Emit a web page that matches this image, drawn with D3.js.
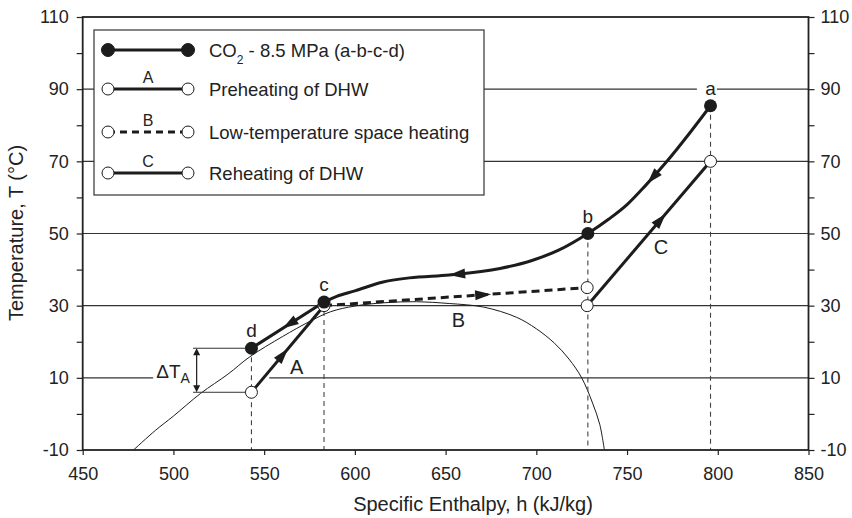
<!DOCTYPE html>
<html>
<head>
<meta charset="utf-8">
<script src="https://cdn.jsdelivr.net/npm/d3@7"></script>
<style>
  body { margin: 0; background: #fff; }
  svg { font-family: "Liberation Sans", Arial, sans-serif; }
</style>
</head>
<body>
<svg width="852" height="518"></svg>
<script>
// values: [h (kJ/kg), T (°C)]
// CO2 gas cooler path, c -> b -> a (flow goes a -> b -> c -> d)
const co2Curve = [[583,31],[590,32.6],[600,34.1],[615,36.5],[630,37.7],[652,38.5],[680,40.3],[698,42.6],[712,45.3],[728.4,50],[740,54],[750,58],[760,63.2],[772,70],[784,77.5],[796,85.4]];
const co2Tail = [[583,31],[543,18.2]];
const lineA = [[543,6],[583,30]];
const lineB = [[583,30],[728,35]];
const lineC = [[728,30],[796,70]];
const dome = [[478,-10],[490,-4.6],[500,-0.6],[515,5.7],[530,11],[542,15.8],[560,21.4],[575,25.6],[586.5,28.3],[600,29.9],[616,30.8],[634,31.1],[652,30.6],[671,29.6],[689,26.8],[700,23.6],[710,19.6],[718,15.2],[725,10],[731,3],[735,-3],[737.5,-10]];
const filledPts = [[796,85.4],[728.4,50],[583,31],[543,18.2]];
const openPts = [[543,6],[583,30],[728,35],[728,30],[796,70]];
const pointNames = ['a','b','c','d'];
const dropLines = [[543,18.2],[583,31],[728.4,50],[796,85.4]];
const co2Arrows = [[764.4,65.4],[656.2,38.9]];
const tailArrows = [[564.3,24.6]];
const arrowA = [[560.4,16.4]];
const arrowB = [[670.7,33]];
const arrowC = [[768.5,53.8]];
const streamLabels = [['A',567.9,11.05],['B',657,24.2],['C',768.7,44.2]];
const deltaT = {h: 512.8, hFrom: 510.8, top: 18.2, bottom: 6, labelH: 499.8, labelT: 10};

const hTicks = [450,500,550,600,650,700,750,800,850];
const tTicks = [-10,0,10,20,30,40,50,60,70,80,90,100,110];
const tLabels = [-10,10,30,50,70,90,110];
const gridT = [10,30,50,70,90];
const gridGaps = {10: [488.8,552.8], 90: [788.5,799.5]};

const legendRows = [
  {key: '', text: 'CO<tspan baseline-shift="sub" font-size="12">2</tspan> - 8.5 MPa (a-b-c-d)', filled: true, dash: null},
  {key: 'A', text: 'Preheating of DHW', filled: false, dash: null},
  {key: 'B', text: 'Low-temperature space heating', filled: false, dash: '7,5'},
  {key: 'C', text: 'Reheating of DHW', filled: false, dash: null}
];

const svg = d3.select('svg');
const ink = '#1c1c1c';
const x = d3.scaleLinear().domain([450, 850]).range([82.7, 808.5]);
const y = d3.scaleLinear().domain([-10, 110]).range([450, 17]);

// gridlines
gridT.forEach(t => {
  const segs = gridGaps[t] ? [[450, gridGaps[t][0]], [gridGaps[t][1], 850]] : [[450, 850]];
  segs.forEach(s => {
    svg.append('line')
      .attr('x1', x(s[0])).attr('x2', x(s[1]))
      .attr('y1', y(t)).attr('y2', y(t))
      .attr('stroke', '#333').attr('stroke-width', 1.1);
  });
});

// saturation dome
svg.append('path')
  .attr('fill', 'none')
  .attr('stroke', ink)
  .attr('stroke-width', 1)
  .attr('d', d3.line().x(d => x(d[0])).y(d => y(d[1])).curve(d3.curveCatmullRom)(dome));

// dashed drop lines
svg.selectAll('.drop')
  .data(dropLines)
  .enter()
  .append('line')
  .attr('x1', d => x(d[0])).attr('x2', d => x(d[0]))
  .attr('y1', d => y(d[1])).attr('y2', y(-10))
  .attr('stroke', '#444').attr('stroke-width', 1.1)
  .attr('stroke-dasharray', '5,4');

// delta T_A dimension
[deltaT.top, deltaT.bottom].forEach(t => {
  svg.append('line')
    .attr('x1', x(deltaT.hFrom)).attr('x2', x(543))
    .attr('y1', y(t)).attr('y2', y(t))
    .attr('stroke', '#333').attr('stroke-width', 1);
});
svg.append('line')
  .attr('x1', x(deltaT.h)).attr('x2', x(deltaT.h))
  .attr('y1', y(deltaT.top) + 6).attr('y2', y(deltaT.bottom) - 6)
  .attr('stroke', ink).attr('stroke-width', 1.2);
svg.append('path')
  .attr('d', `M${x(deltaT.h)},${y(deltaT.top)}l-3.5,7h7z M${x(deltaT.h)},${y(deltaT.bottom)}l-3.5,-7h7z`)
  .attr('fill', ink);
const dt = svg.append('text')
  .attr('x', x(deltaT.labelH)).attr('y', y(deltaT.labelT))
  .attr('text-anchor', 'middle')
  .attr('font-size', 19).attr('fill', '#222');
dt.append('tspan').text('\u0394T');
dt.append('tspan').attr('font-size', 14).attr('dy', 5).text('A');

// process lines
function drawLine(data, width, dash, curve) {
  return svg.append('path')
    .attr('fill', 'none')
    .attr('stroke', ink)
    .attr('stroke-width', width)
    .attr('stroke-linejoin', 'round')
    .attr('stroke-dasharray', dash)
    .attr('d', d3.line().x(d => x(d[0])).y(d => y(d[1])).curve(curve || d3.curveLinear)(data));
}
const pB = drawLine(lineB, 3, '8,5');
const pA = drawLine(lineA, 3, null);
const pC = drawLine(lineC, 3, null);
const pCO2 = drawLine(co2Curve, 3, null, d3.curveMonotoneX);
const pTail = drawLine(co2Tail, 3, null);

function arrowOn(path, pt, reverse) {
  const node = path.node(), len = node.getTotalLength();
  const px = x(pt[0]), py = y(pt[1]);
  let best = 0, bd = Infinity;
  for (let l = 0; l <= len; l += 0.5) {
    const p = node.getPointAtLength(l);
    const dd = (p.x - px) ** 2 + (p.y - py) ** 2;
    if (dd < bd) { bd = dd; best = l; }
  }
  const p = node.getPointAtLength(best);
  const p0 = node.getPointAtLength(Math.max(0, best - 3));
  const p1 = node.getPointAtLength(Math.min(len, best + 3));
  let ang = Math.atan2(p1.y - p0.y, p1.x - p0.x) * 180 / Math.PI;
  if (reverse) ang += 180;
  svg.append('path')
    .attr('d', 'M8,0L-8,-5L-8,5Z')
    .attr('fill', ink)
    .attr('transform', `translate(${p.x},${p.y}) rotate(${ang})`);
}
co2Arrows.forEach(a => arrowOn(pCO2, a, true));
tailArrows.forEach(a => arrowOn(pTail, a, false));
arrowA.forEach(a => arrowOn(pA, a));
arrowB.forEach(a => arrowOn(pB, a));
arrowC.forEach(a => arrowOn(pC, a));

// state points
svg.selectAll('.open')
  .data(openPts)
  .enter()
  .append('circle')
  .attr('cx', d => x(d[0])).attr('cy', d => y(d[1]))
  .attr('r', 6)
  .attr('fill', '#fff').attr('stroke', ink).attr('stroke-width', 1);
svg.selectAll('.filled')
  .data(filledPts)
  .enter()
  .append('circle')
  .attr('cx', d => x(d[0])).attr('cy', d => y(d[1]))
  .attr('r', 6.5)
  .attr('fill', ink);

// point labels
svg.selectAll('.plabel')
  .data(filledPts)
  .enter()
  .append('text')
  .attr('x', d => x(d[0])).attr('y', d => y(d[1]) - 11)
  .attr('text-anchor', 'middle')
  .attr('font-size', 19).attr('fill', '#222')
  .text((d, i) => pointNames[i]);
svg.selectAll('.slabel')
  .data(streamLabels)
  .enter()
  .append('text')
  .attr('x', d => x(d[1])).attr('y', d => y(d[2]))
  .attr('text-anchor', 'middle')
  .attr('font-size', 20).attr('fill', '#222')
  .text(d => d[0]);

// legend
const lg = svg.append('g');
lg.append('rect')
  .attr('x', 94).attr('y', 30).attr('width', 390).attr('height', 165)
  .attr('fill', '#fff').attr('stroke', '#333').attr('stroke-width', 1.2);
const rowY = [50, 89, 132, 173];
legendRows.forEach((r, i) => {
  const g = lg.append('g').attr('transform', `translate(0,${rowY[i]})`);
  g.append('line')
    .attr('x1', 108).attr('x2', 188)
    .attr('stroke', ink).attr('stroke-width', 3)
    .attr('stroke-dasharray', r.dash);
  [108, 188].forEach(cx => {
    g.append('circle')
      .attr('cx', cx).attr('r', r.filled ? 6.5 : 6)
      .attr('fill', r.filled ? ink : '#fff')
      .attr('stroke', ink).attr('stroke-width', 1);
  });
  if (r.key) {
    g.append('text')
      .attr('x', 148).attr('y', -6)
      .attr('text-anchor', 'middle')
      .attr('font-size', 16).attr('fill', '#222')
      .text(r.key);
  }
  g.append('text')
    .attr('x', 209).attr('y', 6.5)
    .attr('font-size', 18.5).attr('fill', '#222')
    .html(r.text);
});

// axes and frame
svg.append('rect')
  .attr('x', x(450)).attr('y', y(110))
  .attr('width', x(850) - x(450)).attr('height', y(-10) - y(110))
  .attr('fill', 'none').attr('stroke', '#222').attr('stroke-width', 1.8);

const fmt = d => tLabels.includes(d) ? d : '';
const left = svg.append('g')
  .attr('transform', `translate(${x(450)},0)`)
  .call(d3.axisLeft(y).tickValues(tTicks).tickSize(6).tickPadding(8).tickFormat(fmt));
const right = svg.append('g')
  .attr('transform', `translate(${x(850)},0)`)
  .call(d3.axisRight(y).tickValues(tTicks).tickSize(6).tickPadding(6).tickFormat(fmt));
const bottom = svg.append('g')
  .attr('transform', `translate(0,${y(-10)})`)
  .call(d3.axisBottom(x).tickValues(hTicks).tickSize(5).tickPadding(12));
[left, right, bottom].forEach(g => {
  g.select('.domain').remove();
  g.attr('font-family', null).attr('font-size', 18);
  g.selectAll('line').attr('stroke', '#222').attr('stroke-width', 1.2);
  g.selectAll('text').attr('fill', '#222');
});

svg.append('text')
  .attr('x', 473).attr('y', 511)
  .attr('text-anchor', 'middle')
  .attr('font-size', 20).attr('fill', '#222')
  .text('Specific Enthalpy, h (kJ/kg)');
svg.append('text')
  .attr('transform', 'translate(23,233) rotate(-90)')
  .attr('text-anchor', 'middle')
  .attr('font-size', 20).attr('fill', '#222')
  .text('Temperature, T (\u00B0C)');
</script>
</body>
</html>
